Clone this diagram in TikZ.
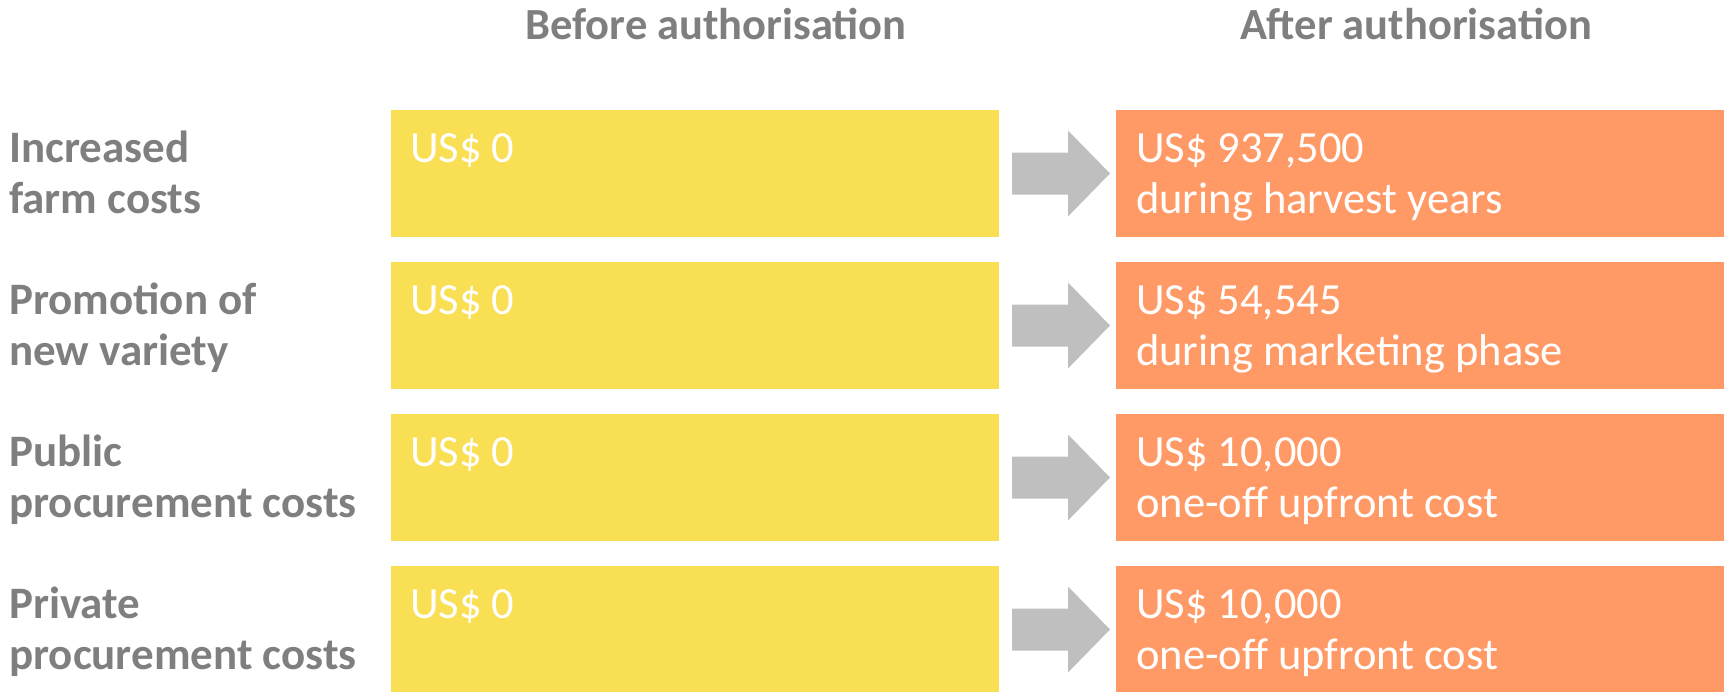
\documentclass[tikz,border=0pt]{standalone}
\usepackage{fontspec}
\setmainfont{Carlito}
\usetikzlibrary{calc}
\definecolor{ybox}{HTML}{F9DF53}
\definecolor{obox}{HTML}{FF9A66}
\definecolor{lbl}{HTML}{7F7F7F}
\definecolor{arr}{HTML}{BFBFBF}
\begin{document}
\begin{tikzpicture}[x=1pt,y=-1pt,
  cell/.style={minimum width=608pt, minimum height=127pt, inner sep=0pt, outer sep=0pt, anchor=north west},
  before/.style={cell, fill=ybox},
  after/.style={cell, fill=obox},
  valtxt/.style={text=white, font=\fontsize{44.5}{51}\selectfont, align=left, inner sep=0pt, anchor=base west},
  rowlbl/.style={text=lbl, font=\fontsize{45}{51}\selectfont\bfseries, align=left, inner sep=0pt, anchor=base west},
  head/.style={text=lbl, font=\fontsize{44.5}{51}\selectfont\bfseries, inner sep=0pt, anchor=base},
  flow/.style={fill=arr}]
\useasboundingbox (0,0) rectangle (1727,691);
\node[head] (hb) at (716,39) {Before authorisation};
\node[head] (ha) at (1416,39) {After authorisation};
\foreach \i/\lab/\val in {
  1/{Increased\\farm costs}/{US\$ 937,500\\during harvest years},
  2/{Promotion of\\new variety}/{US\$ 54,545\\during marketing phase},
  3/{Public\\procurement costs}/{US\$ 10,000\\one-off upfront cost},
  4/{Private\\procurement costs}/{US\$ 10,000\\one-off upfront cost}} {
  \pgfmathsetmacro{\ty}{110+152*(\i-1)}
  \node[before] (b\i) at (391,\ty) {};
  \node[after] (a\i) at (1116,\ty) {};
  \node[rowlbl] (l\i) at (9,\ty+103) {\lab};
  \node[valtxt] (vb\i) at ($(b\i.north west)+(19,52)$) {US\$ 0};
  \node[valtxt] (va\i) at ($(a\i.north west)+(20,103)$) {\val};
  \fill[flow] ($(b\i.east)+(13,-21)$) -- ($(b\i.east)+(69,-21)$) -- ($(b\i.east)+(69,-43)$)
     -- ($(a\i.west)+(-6,0)$) -- ($(b\i.east)+(69,43)$) -- ($(b\i.east)+(69,21)$)
     -- ($(b\i.east)+(13,21)$) -- cycle;
}
\end{tikzpicture}
\end{document}
